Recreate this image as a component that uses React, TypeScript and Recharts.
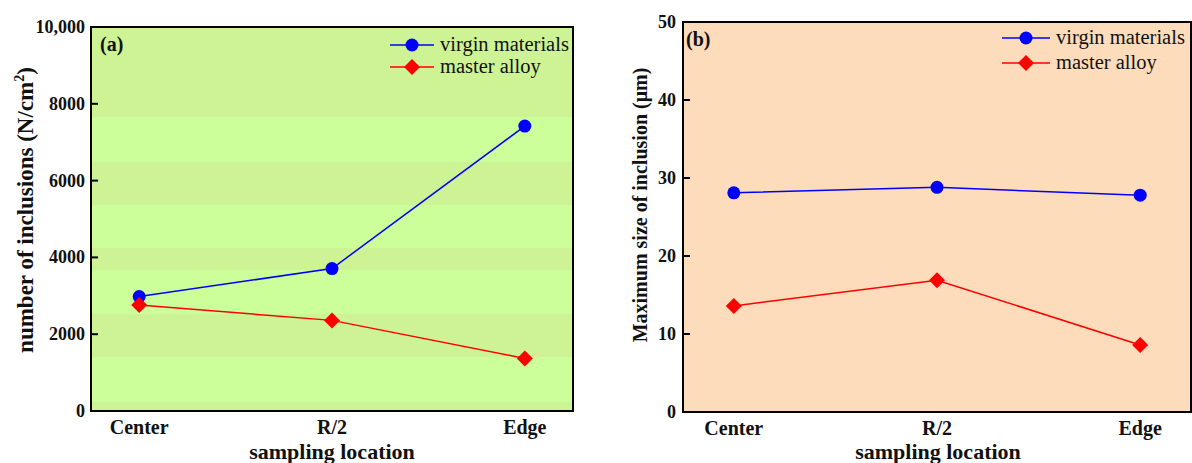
import React from 'react';
import { LineChart, Line, XAxis, YAxis, ReferenceArea, CartesianGrid } from 'recharts';

const locations = ['Center', 'R/2', 'Edge'];

// (a) number of inclusions, N/cm²
const countVirgin = [2980, 3710, 7420];
const countMaster = [2760, 2360, 1370];
const countTicks = [0, 2000, 4000, 6000, 8000, 10000];

// (b) maximum inclusion size, µm
const sizeVirgin = [28.1, 28.8, 27.8];
const sizeMaster = [13.6, 16.9, 8.6];
const sizeTicks = [0, 10, 20, 30, 40, 50];

// stripe edges of the green background in panel (a), top to bottom
const stripeEdges = [10000, 7656, 6484, 5365, 4245, 3672, 2526, 1406, 234, 0];

const seriesNames = ['virgin materials', 'master alloy'];

const FONT = 'Liberation Serif, Times New Roman, serif';
const txt = { fontFamily: FONT };
const BLUE = '#0000ff';
const RED = '#ff0000';

const countData = locations.map((_, i) => ({ i, virgin: countVirgin[i], master: countMaster[i] }));
const sizeData = locations.map((_, i) => ({ i, virgin: sizeVirgin[i], master: sizeMaster[i] }));

const Circle = (p: any) => <circle key={p.index} cx={p.cx} cy={p.cy} r={6.5} fill={BLUE} />;
const Diamond = (p: any) => (
    <path key={p.index} d={`M${p.cx},${p.cy - 8}L${p.cx + 8},${p.cy}L${p.cx},${p.cy + 8}L${p.cx - 8},${p.cy}Z`} fill={RED} />
);

// y ticks with inward tick marks
const yTick = (axisX: number, fmt: (v: number) => string) => (p: any) => (
    <g>
        {p.payload.value !== 0 && <line x1={axisX} x2={axisX + 7} y1={p.y} y2={p.y} stroke="#000" strokeWidth={2} />}
        <text x={p.x} y={p.y} dy={6} textAnchor="end" style={txt} fontWeight="bold" fontSize={18} fill="#111">
            {fmt(p.payload.value)}
        </text>
    </g>
);

const xTick = (p: any) => (
    <text x={p.x} y={p.y} dy={15} textAnchor="middle" style={txt} fontWeight="bold" fontSize={20} fill="#111">
        {locations[p.payload.value]}
    </text>
);

// legend drawn straight into the plot svg
const legendBox = (x: number, y: number, lineW: number, gap: number) => (
    <g>
        {seriesNames.map((name, k) => {
            const ly = y + k * gap;
            const mx = x + lineW / 2;
            return (
                <g key={name}>
                    <line x1={x} x2={x + lineW} y1={ly} y2={ly} stroke={k === 0 ? BLUE : RED} strokeWidth={1.5} />
                    {k === 0 ? <Circle cx={mx} cy={ly} /> : <Diamond cx={mx} cy={ly} />}
                    <text x={x + lineW + 6} y={ly + 6} style={txt} fontSize={20.5} fill="#111">{name}</text>
                </g>
            );
        })}
    </g>
);

const xTitle = (cx: number) => (
    <text x={cx} y={459} textAnchor="middle" style={txt} fontWeight="bold" fontSize={22} fill="#111">sampling location</text>
);

export default function App() {
    return (
        <div style={{ position: 'absolute', left: 0, top: 0, width: 1192, height: 463, background: '#fff', overflow: 'hidden' }}>
            <div style={{ position: 'absolute', left: 0, top: 0 }}>
                <LineChart width={600} height={463} data={countData} margin={{ top: 27, right: 27, left: 0, bottom: 0 }}>
                    <CartesianGrid
                        vertical={false}
                        stroke="none"
                        horizontalValues={stripeEdges}
                        horizontalFill={['#cdf394', '#ccff99']}
                        fillOpacity={1}
                    />
                    <ReferenceArea x1={-0.25} x2={2.25} y1={0} y2={10000} fill="none" stroke="#000" strokeWidth={2} />
                    <XAxis
                        dataKey="i"
                        type="number"
                        domain={[-0.25, 2.25]}
                        ticks={[0, 1, 2]}
                        height={52}
                        tickLine={false}
                        axisLine={{ stroke: '#000', strokeWidth: 2 }}
                        tick={xTick}
                        allowDataOverflow
                    />
                    <YAxis
                        type="number"
                        domain={[0, 10000]}
                        ticks={countTicks}
                        width={91}
                        tickSize={0}
                        tickMargin={6}
                        tickLine={false}
                        axisLine={{ stroke: '#000', strokeWidth: 2 }}
                        tick={yTick(91, v => (v === 10000 ? '10,000' : String(v)))}
                        interval={0}
                    />
                    <Line dataKey="virgin" stroke={BLUE} strokeWidth={1.5} dot={Circle} activeDot={false} isAnimationActive={false} />
                    <Line dataKey="master" stroke={RED} strokeWidth={1.5} dot={Diamond} activeDot={false} isAnimationActive={false} />
                    {legendBox(390, 45, 44, 22)}
                    <text x={100} y={51} style={txt} fontWeight="bold" fontSize={20} fill="#111">(a)</text>
                    <text transform="translate(33,210) rotate(-90)" textAnchor="middle" style={txt} fontWeight="bold" fontSize={23} fill="#111">
                        number of inclusions (N/cm<tspan dy={-9} fontSize={14}>2</tspan><tspan dy={9}>)</tspan>
                    </text>
                    {xTitle(332)}
                </LineChart>
            </div>
            <div style={{ position: 'absolute', left: 600, top: 0 }}>
                <LineChart width={592} height={463} data={sizeData} margin={{ top: 22, right: 1, left: 0, bottom: 0 }}>
                    <CartesianGrid vertical={false} horizontal={false} stroke="none" fill="#fddcbb" fillOpacity={1} />
                    <ReferenceArea x1={-0.25} x2={2.25} y1={0} y2={50} fill="none" stroke="#000" strokeWidth={2} />
                    <XAxis
                        dataKey="i"
                        type="number"
                        domain={[-0.25, 2.25]}
                        ticks={[0, 1, 2]}
                        height={51}
                        tickLine={false}
                        axisLine={{ stroke: '#000', strokeWidth: 2 }}
                        tick={xTick}
                        allowDataOverflow
                    />
                    <YAxis
                        type="number"
                        domain={[0, 50]}
                        ticks={sizeTicks}
                        width={83}
                        tickSize={0}
                        tickMargin={7}
                        tickLine={false}
                        axisLine={{ stroke: '#000', strokeWidth: 2 }}
                        tick={yTick(83, v => String(v))}
                        interval={0}
                    />
                    <Line dataKey="virgin" stroke={BLUE} strokeWidth={1.5} dot={Circle} activeDot={false} isAnimationActive={false} />
                    <Line dataKey="master" stroke={RED} strokeWidth={1.5} dot={Diamond} activeDot={false} isAnimationActive={false} />
                    {legendBox(402, 38, 48, 25)}
                    <text x={86} y={46} style={txt} fontWeight="bold" fontSize={20} fill="#111">(b)</text>
                    <text transform="translate(47,205) rotate(-90)" textAnchor="middle" style={txt} fontWeight="bold" fontSize={20} fill="#111">
                        Maximum size of inclusion (μm)
                    </text>
                    {xTitle(338)}
                </LineChart>
            </div>
        </div>
    );
}
